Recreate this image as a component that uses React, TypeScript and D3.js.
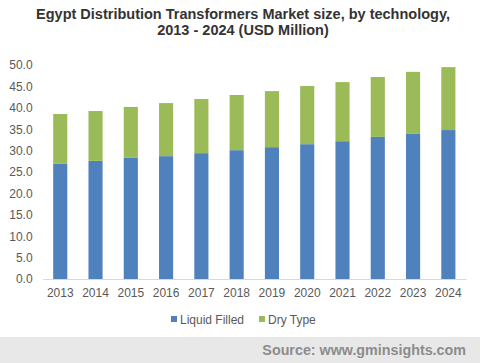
import React, { useEffect, useRef } from "react";
import * as d3 from "d3";

const years = ["2013", "2014", "2015", "2016", "2017", "2018", "2019", "2020", "2021", "2022", "2023", "2024"];
const liquidFilled = [26.9, 27.6, 28.3, 28.7, 29.4, 30.1, 30.8, 31.5, 32.2, 33.2, 33.9, 34.8];
const dryType = [11.65, 11.65, 11.9, 12.4, 12.65, 12.9, 13.1, 13.6, 13.8, 14.0, 14.5, 14.7];
const yTicks = [0, 5, 10, 15, 20, 25, 30, 35, 40, 45, 50];

const WIDTH = 480;
const HEIGHT = 363;
const margin = { top: 65, right: 14, bottom: 84, left: 42.6 };

export default function App() {
  const svgRef = useRef<SVGSVGElement>(null);

  useEffect(() => {
    if (!svgRef.current) return;
    const svg = d3.select(svgRef.current);
    svg.selectAll("*").remove();

    const font = "'Liberation Sans', Arial, sans-serif";
    const innerHeight = HEIGHT - margin.top - margin.bottom;

    svg.append("rect").attr("width", WIDTH).attr("height", HEIGHT).attr("fill", "#ffffff");

    // title
    const title = svg
      .append("text")
      .attr("x", WIDTH / 2)
      .attr("text-anchor", "middle")
      .attr("font-family", font)
      .attr("font-weight", "bold")
      .attr("font-size", 14.5)
      .attr("fill", "#333333");
    title.append("tspan").attr("x", WIDTH / 2 + 3).attr("y", 18.5).text("Egypt Distribution Transformers Market size, by technology,");
    title.append("tspan").attr("x", WIDTH / 2 + 3).attr("y", 35).text("2013 - 2024 (USD Million)");

    const x = d3
      .scaleBand()
      .domain(years)
      .range([margin.left, WIDTH - margin.right])
      .paddingInner(0.6)
      .paddingOuter(0.3);

    const y = d3
      .scaleLinear()
      .domain([0, 50])
      .range([margin.top + innerHeight, margin.top]);

    // y tick labels
    const yAxis = svg
      .append("g")
      .attr("transform", `translate(${margin.left},0)`)
      .call(d3.axisLeft(y).tickValues(yTicks).tickSize(0).tickPadding(10).tickFormat((d) => (d as number).toFixed(1)));
    yAxis.select(".domain").remove();
    yAxis.selectAll("text").attr("font-family", font).attr("font-size", 12).attr("fill", "#595959");

    // stacked bars
    const stacks = years.map((yr, i) => ({ yr, liquid: liquidFilled[i], dry: dryType[i] }));
    const stacked = d3.stack<{ yr: string; liquid: number; dry: number }>().keys(["liquid", "dry"])(stacks);
    const colors = ["#4F81BD", "#9BBB59"];

    stacked.forEach((layer, li) => {
      svg
        .append("g")
        .attr("fill", colors[li])
        .selectAll("rect")
        .data(layer)
        .join("rect")
        .attr("x", (d) => x(d.data.yr) as number)
        .attr("width", x.bandwidth())
        .attr("y", (d) => y(d[1]))
        .attr("height", (d) => y(d[0]) - y(d[1]));
    });

    // x axis
    const xAxis = svg
      .append("g")
      .attr("transform", `translate(0,${y(0)})`)
      .call(d3.axisBottom(x).tickSize(0).tickPadding(9));
    xAxis.select(".domain").attr("stroke", "#D9D9D9").attr("stroke-width", 1);
    xAxis.selectAll("text").attr("font-family", font).attr("font-size", 12).attr("fill", "#595959");

    // legend
    const legend = svg.append("g").attr("font-family", font).attr("font-size", 12).attr("fill", "#595959");
    const items = [
      { label: "Liquid Filled", color: colors[0], x: 171 },
      { label: "Dry Type", color: colors[1], x: 259 },
    ];
    items.forEach((it) => {
      legend.append("rect").attr("x", it.x).attr("y", 316).attr("width", 6).attr("height", 6).attr("fill", it.color);
      legend
        .append("text")
        .attr("x", it.x + 9)
        .attr("y", 323.5)
        .attr("fill", "#595959")
        .text(it.label);
    });

    // footer
    svg.append("rect").attr("x", 0).attr("y", 337).attr("width", WIDTH).attr("height", HEIGHT - 337).attr("fill", "#E8E8E8");
    svg
      .append("text")
      .attr("x", 466)
      .attr("y", 355)
      .attr("text-anchor", "end")
      .attr("font-family", font)
      .attr("font-weight", "bold")
      .attr("font-size", 14.3)
      .attr("fill", "#8C8C8C")
      .text("Source: www.gminsights.com");
  }, []);

  return (
    <div style={{ position: "absolute", left: 0, top: 0 }}>
      <svg ref={svgRef} width={WIDTH} height={HEIGHT} style={{ display: "block" }} />
    </div>
  );
}
